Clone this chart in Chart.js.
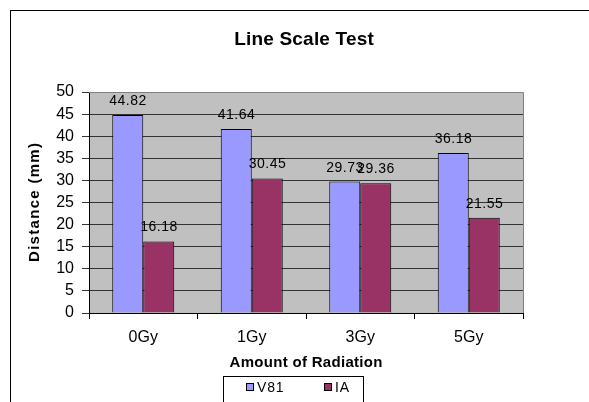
<!DOCTYPE html>
<html>
<head>
<meta charset="utf-8">
<script src="https://cdn.jsdelivr.net/npm/chart.js@4/dist/chart.umd.min.js"></script>
<style>
html,body{margin:0;padding:0;background:#fff;}
#wrap{width:589px;height:402px;position:relative;}
</style>
</head>
<body>
<div id="wrap"><canvas id="c" width="589" height="402"></canvas></div>
<script>
const categories = ["0Gy", "1Gy", "3Gy", "5Gy"];
const v81Values = [44.82, 41.64, 29.73, 36.18];
const iaValues = [16.18, 30.45, 29.36, 21.55];
const seriesNames = ["V81", "IA"];
const yTicks = [0, 5, 10, 15, 20, 25, 30, 35, 40, 45, 50];
const chartTitle = "Line Scale Test";
const xTitle = "Amount of Radiation";
const yTitle = "Distance (mm)";

const FONT = "'Liberation Sans', Arial, sans-serif";
const COLORS = ['#9999FF', '#993366'];

function txt(ctx, s, x, y, spacing) {
  ctx.letterSpacing = spacing + 'px';
  const w = ctx.measureText(s).width;
  const align = ctx.textAlign;
  ctx.textAlign = 'left';
  const x0 = align === 'center' ? x - (w - spacing) / 2 : x;
  ctx.fillText(s, x0, y);
  ctx.textAlign = align;
  ctx.letterSpacing = '0px';
}

const framePlugin = {
  id: 'frame',
  beforeDraw(chart) {
    const ctx = chart.ctx;
    ctx.save();
    ctx.fillStyle = '#fff';
    ctx.fillRect(0, 0, chart.width, chart.height);
    ctx.strokeStyle = '#000';
    ctx.lineWidth = 1;
    ctx.strokeRect(10.5, 10.5, 600, 420);
    const a = chart.chartArea;
    ctx.fillStyle = '#C0C0C0';
    ctx.fillRect(a.left, a.top, a.right - a.left, a.bottom - a.top);
    ctx.restore();
  },
  afterDraw(chart) {
    const ctx = chart.ctx;
    const a = chart.chartArea;
    ctx.save();
    ctx.strokeStyle = '#808080';
    ctx.lineWidth = 1;
    ctx.beginPath();
    ctx.moveTo(a.left, Math.round(a.top) + 0.5);
    ctx.lineTo(Math.round(a.right) + 0.5, Math.round(a.top) + 0.5);
    ctx.lineTo(Math.round(a.right) + 0.5, a.bottom);
    ctx.stroke();

    ctx.fillStyle = '#000';
    ctx.textAlign = 'center';
    ctx.textBaseline = 'middle';
    ctx.font = "bold 19px " + FONT;
    txt(ctx, chartTitle, 304, 40, 0.2);
    ctx.font = "bold 15px " + FONT;
    txt(ctx, xTitle, (a.left + a.right) / 2, 363, 0.3);
    ctx.save();
    ctx.translate(35, (a.top + a.bottom) / 2);
    ctx.rotate(-Math.PI / 2);
    ctx.font = "bold 15px " + FONT;
    txt(ctx, yTitle, 0, 0, 1.3);
    ctx.restore();

    ctx.font = "14px " + FONT;
    ctx.textBaseline = 'alphabetic';
    chart.data.datasets.forEach((ds, di) => {
      const meta = chart.getDatasetMeta(di);
      meta.data.forEach((bar, i) => {
        txt(ctx, ds.data[i].toFixed(2), bar.x, bar.y - 10, 0.5);
      });
    });

    ctx.strokeStyle = '#000';
    ctx.strokeRect(223.5, 376.5, 140, 40);
    const items = [
      { name: seriesNames[0], color: COLORS[0], x: 246 },
      { name: seriesNames[1], color: COLORS[1], x: 324 }
    ];
    ctx.font = "14px " + FONT;
    ctx.textAlign = 'left';
    ctx.textBaseline = 'middle';
    items.forEach(it => {
      ctx.fillStyle = it.color;
      ctx.fillRect(it.x, 384, 7, 7);
      ctx.strokeStyle = '#000';
      ctx.strokeRect(it.x + 0.5, 383.5, 7, 7);
      ctx.fillStyle = '#000';
      txt(ctx, it.name, it.x + 11, 388, 0.8);
    });
    ctx.restore();
  }
};

new Chart(document.getElementById('c'), {
  type: 'bar',
  data: {
    labels: categories,
    datasets: [
      { label: seriesNames[0], data: v81Values, backgroundColor: COLORS[0], borderColor: '#000', borderWidth: 1, borderSkipped: 'bottom' },
      { label: seriesNames[1], data: iaValues, backgroundColor: COLORS[1], borderColor: '#000', borderWidth: 1, borderSkipped: 'bottom' }
    ]
  },
  options: {
    responsive: false,
    animation: false,
    devicePixelRatio: 1,
    layout: { padding: { left: 10, top: 92, right: 66, bottom: 0 } },
    plugins: { legend: { display: false }, title: { display: false }, tooltip: { enabled: false } },
    datasets: { bar: { categoryPercentage: 2 / 3.5, barPercentage: 1.0 } },
    scales: {
      x: {
        offset: true,
        grid: { display: true, drawOnChartArea: false, offset: true, color: '#000', tickLength: 6 },
        border: { color: '#000' },
        ticks: { color: '#000', font: { family: FONT, size: 16 }, padding: 9 },
        afterFit(s) { s.height = 89; }
      },
      y: {
        min: 0, max: 50,
        afterBuildTicks(s) { s.ticks = yTicks.map(v => ({ value: v })); },
        grid: { color: '#333333', tickLength: 7 },
        border: { color: '#000' },
        ticks: { color: '#000', font: { family: FONT, size: 16 }, padding: 8, autoSkip: false },
        afterFit(s) { s.width = 79; }
      }
    }
  },
  plugins: [framePlugin]
});
</script>
</body>
</html>
